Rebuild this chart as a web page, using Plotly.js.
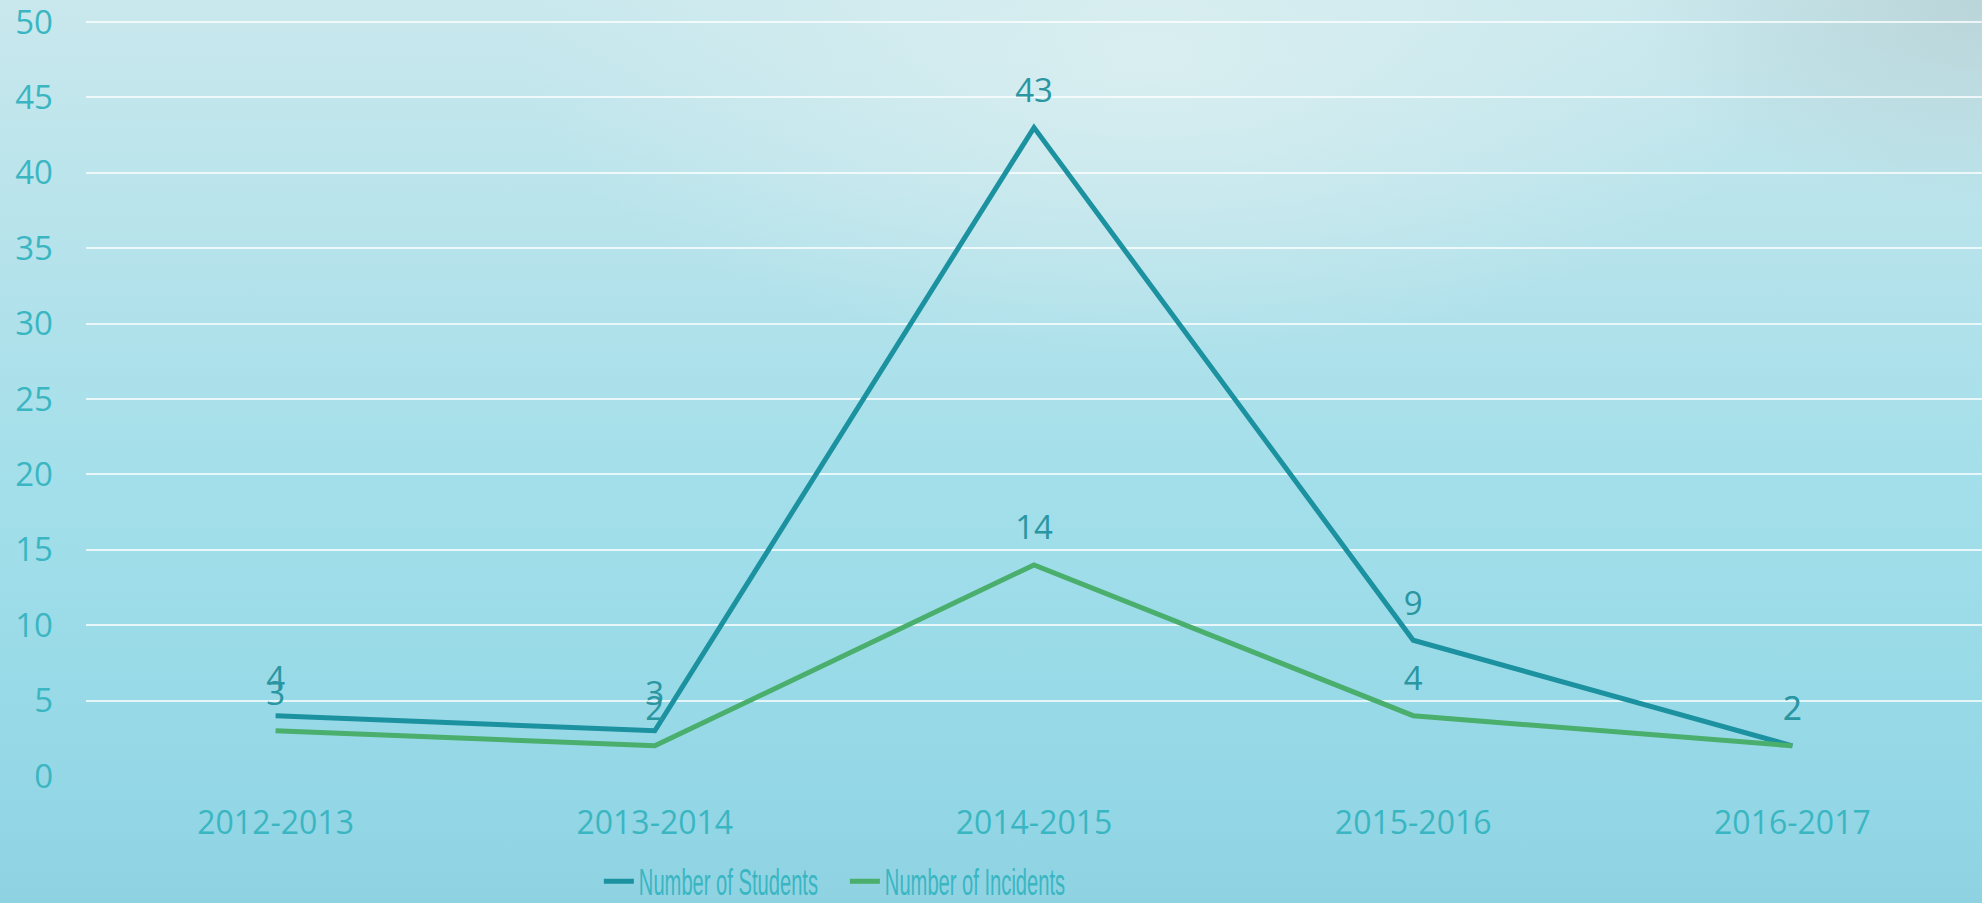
<!DOCTYPE html>
<html>
<head>
<meta charset="utf-8">
<script src="https://cdn.plot.ly/plotly-3.0.1.min.js"></script>
<style>
html,body{margin:0;padding:0;width:1982px;height:903px;overflow:hidden;}
body{
  background:
    radial-gradient(ellipse 900px 420px at 1150px 60px, rgba(222,240,241,0.8), rgba(222,240,241,0) 70%),
    radial-gradient(ellipse 500px 300px at 1982px 0px, rgba(180,205,208,0.7), rgba(180,205,208,0) 70%),
    linear-gradient(to bottom, #c9e8ed 0%, #b4e2eb 30%, #a2dfea 55%, #97d9e7 80%, #8fd3e3 100%);
}
#chart{width:1982px;height:903px;}
.legend .legendtext{transform-box:fill-box;transform-origin:0% 50%;transform:scaleX(0.56);}
</style>
</head>
<body>
<div id="chart"></div>
<script>
const categories = ["2012-2013", "2013-2014", "2014-2015", "2015-2016", "2016-2017"];
const students = [4, 3, 43, 9, 2];
const incidents = [3, 2, 14, 4, 2];
const seriesNames = ["Number of Students", "Number of Incidents"];

const labelColor = "#2a96a2";
const tickColor = "#3ab6c2";
const lineColors = ["#1c92a0", "#4aae6c"];

function lineTrace(vals, name, color) {
  return {
    x: categories, y: vals, name: name,
    type: "scatter", mode: "lines",
    line: {color: color, width: 5},
    cliponaxis: false
  };
}
function labelTrace(vals) {
  return {
    x: categories, y: vals, type: "scatter", mode: "markers+text",
    text: vals.map(String), textposition: "top center",
    textfont: {family: "Open Sans", size: 33, color: labelColor},
    marker: {size: 26, color: "rgba(0,0,0,0)"},
    showlegend: false, hoverinfo: "skip", cliponaxis: false
  };
}

const traces = [
  lineTrace(students, seriesNames[0], lineColors[0]),
  lineTrace(incidents, seriesNames[1], lineColors[1]),
  labelTrace(students),
  labelTrace(incidents)
];

const layout = {
  width: 1982, height: 903,
  margin: {l: 86, r: 0, t: 19, b: 127},
  paper_bgcolor: "rgba(0,0,0,0)",
  plot_bgcolor: "rgba(0,0,0,0)",
  showlegend: true,
  legend: {
    orientation: "h", x: 0.2705, xanchor: "left",
    yref: "container", y: 0.024, yanchor: "middle",
    font: {family: "Liberation Sans", size: 36, color: tickColor},
    bgcolor: "rgba(0,0,0,0)", itemwidth: 30, tracegroupgap: 0,
    entrywidth: 201, entrywidthmode: "pixels"
  },
  xaxis: {
    type: "category", range: [-0.5, 4.5],
    showgrid: false, zeroline: false, showline: false, ticks: "",
    tickfont: {family: "Open Sans", size: 32, color: tickColor},
    ticklabelstandoff: 25
  },
  yaxis: {
    range: [0, 50.2], dtick: 5, tick0: 0,
    showgrid: true, gridcolor: "rgba(255,255,255,0.75)", gridwidth: 2,
    zeroline: false, showline: false, ticks: "",
    tickfont: {family: "Open Sans", size: 33, color: tickColor},
    ticklabelstandoff: 32, ticklabeloverflow: "allow"
  },
  font: {family: "Open Sans", color: tickColor}
};

Plotly.newPlot("chart", traces, layout, {displayModeBar: false, staticPlot: true});
</script>
</body>
</html>
